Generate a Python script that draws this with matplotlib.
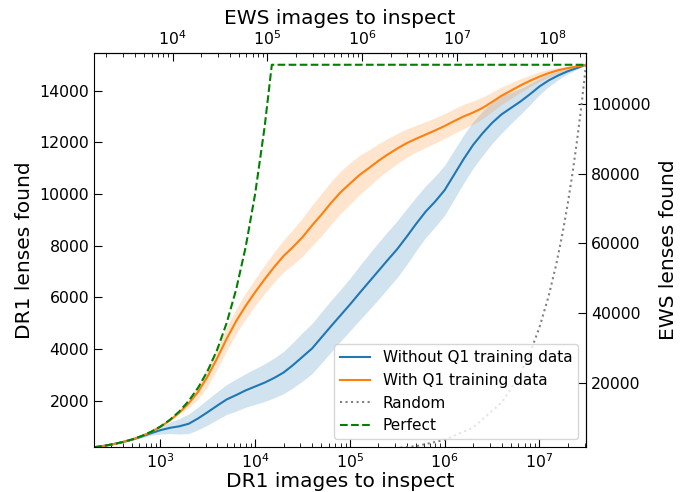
import matplotlib
matplotlib.use("Agg")
import matplotlib.pyplot as plt
import numpy as np

# ---- data ----
dr1_images = [200, 251, 316, 398, 501, 631, 794, 1000, 1259, 1585, 1995, 2512, 3162,
              3981, 5012, 6310, 7943, 10000, 12589, 15849, 19953, 25119, 31623, 39811,
              50119, 63096, 79433, 100000, 125893, 158489, 199526, 251189, 316228,
              398107, 501187, 630957, 794328, 1000000, 1258925, 1584893, 1995262,
              2511886, 3162278, 3981072, 5011872, 6309573, 7943282, 10000000,
              12589254, 15848932, 19952623, 25118864, 31000000]

with_q1 = [200, 251, 316, 398, 500, 628, 790, 990, 1240, 1540, 1900, 2350, 2950,
           3650, 4400, 5080, 5670, 6200, 6700, 7170, 7600, 7950, 8330, 8780,
           9200, 9650, 10060, 10400, 10730, 11000, 11280, 11530, 11760,
           11970, 12140, 12300, 12460, 12630, 12820, 13000, 13150,
           13330, 13560, 13800, 14000, 14200, 14380, 14540,
           14680, 14790, 14870, 14940, 15000]
with_q1_err = [0, 0, 0, 0, 0, 0, 10, 15, 30, 60, 150, 280, 380,
               430, 460, 480, 500, 520, 550, 580, 620, 680, 740, 790,
               820, 830, 820, 800, 760, 710, 660, 620, 580,
               550, 520, 500, 490, 480, 480, 470, 450,
               420, 380, 340, 300, 260, 220, 190,
               150, 110, 80, 40, 0]

without_q1 = [200, 251, 316, 398, 490, 610, 740, 860, 950, 1010, 1110, 1320, 1560,
              1810, 2050, 2220, 2400, 2550, 2700, 2880, 3090, 3380, 3700, 4020,
              4450, 4880, 5300, 5720, 6160, 6590, 7020, 7450, 7870,
              8350, 8850, 9320, 9710, 10150, 10750, 11350, 11900,
              12350, 12750, 13080, 13330, 13580, 13860, 14160,
              14400, 14590, 14750, 14880, 15000]
without_q1_err = [0, 0, 5, 10, 20, 50, 80, 150, 220, 300, 380, 440, 500,
                  540, 580, 620, 650, 690, 730, 770, 820, 880, 940, 970,
                  990, 1000, 1000, 1020, 1050, 1080, 1100, 1100, 1100,
                  1080, 1040, 1000, 980, 970, 950, 930, 900,
                  860, 800, 720, 600, 500, 410, 320,
                  240, 160, 100, 50, 0]

perfect_x = [200, 251, 316, 398, 501, 631, 794, 1000, 1259, 1585, 1995, 2512, 3162,
             3981, 5012, 6310, 7943, 10000, 12589, 15000, 31000000]
perfect_y = [200, 251, 316, 398, 501, 631, 794, 1000, 1259, 1585, 1995, 2512, 3162,
             3981, 5012, 6310, 7943, 10000, 12589, 15000, 15000]

random_x = [200000, 500000, 1000000, 2000000, 4000000, 6000000, 8000000, 10000000,
            12500000, 15000000, 17500000, 20000000, 22500000, 25000000, 27500000, 31000000]
random_y = [97, 242, 484, 968, 1935, 2903, 3871, 4839,
            6048, 7258, 8468, 9677, 10887, 12097, 13306, 15000]

ews_factor = 7.42
left_ticks = [2000, 4000, 6000, 8000, 10000, 12000, 14000]
right_ticks = [20000, 40000, 60000, 80000, 100000]
top_ticks = [1e4, 1e5, 1e6, 1e7, 1e8]

# ---- plot ----
fig = plt.figure(figsize=(6.87, 4.92), dpi=100)
ax = fig.add_axes([0.137, 0.0915, 0.716, 0.8005])

x = np.array(dr1_images)
wq = np.array(with_q1); wqe = np.array(with_q1_err)
nq = np.array(without_q1); nqe = np.array(without_q1_err)

ax.fill_between(x, nq - nqe, nq + nqe, color='tab:blue', alpha=0.2, linewidth=0)
ax.fill_between(x, wq - wqe, wq + wqe, color='tab:orange', alpha=0.2, linewidth=0)
ax.plot(x, nq, color='tab:blue', lw=1.5, label='Without Q1 training data')
ax.plot(x, wq, color='tab:orange', lw=1.5, label='With Q1 training data')
ax.plot(random_x, random_y, color='gray', ls=':', lw=1.5, label='Random')
ax.plot(perfect_x, perfect_y, color='green', ls='--', lw=1.5, label='Perfect')

ax.set_xscale('log')
ax.set_xlim(200, 31000000)
ax.set_ylim(210, 15450)
ax.set_yticks(left_ticks)
ax.set_xlabel('DR1 images to inspect', fontsize=14.5, labelpad=1)
ax.set_ylabel('DR1 lenses found', fontsize=14.5)
ax.tick_params(which='both', direction='in', labelsize=11.3)
ax.tick_params(which='major', length=6)
ax.tick_params(which='minor', length=3)

secx = ax.secondary_xaxis('top', functions=(lambda v: v * ews_factor, lambda v: v / ews_factor))
secx.set_xticks(top_ticks)
secx.set_xlabel('EWS images to inspect', fontsize=14.5, labelpad=4)
secx.tick_params(which='both', direction='in', labelsize=11.3)
secx.tick_params(which='major', length=6)
secx.tick_params(which='minor', length=3)

secy = ax.secondary_yaxis('right', functions=(lambda v: v * ews_factor, lambda v: v / ews_factor))
secy.set_yticks(right_ticks)
secy.set_ylabel('EWS lenses found', fontsize=14.5, labelpad=6)
secy.tick_params(which='both', direction='in', labelsize=11.3, length=6)

ax.legend(loc='lower right', fontsize=11)

fig.savefig('out.png', dpi=100)
